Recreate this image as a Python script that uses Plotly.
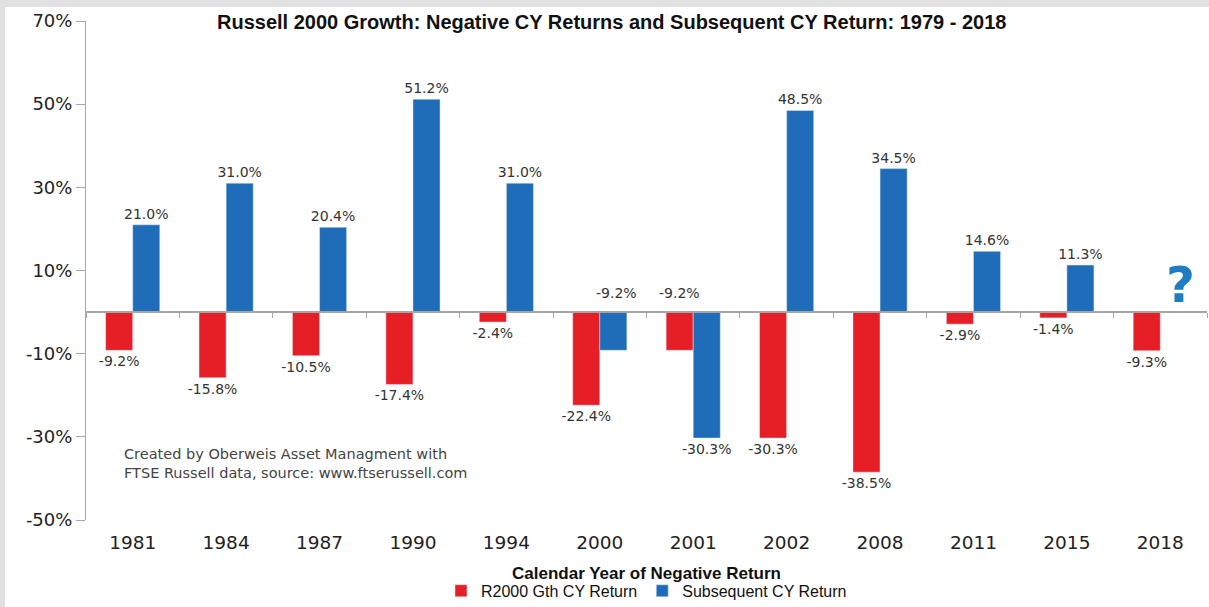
import plotly.graph_objects as go

years = ["1981", "1984", "1987", "1990", "1994", "2000", "2001", "2002", "2008", "2011", "2015", "2018"]
neg_returns = [-9.2, -15.8, -10.5, -17.4, -2.4, -22.4, -9.2, -30.3, -38.5, -2.9, -1.4, -9.3]
next_returns = [21.0, 31.0, 20.4, 51.2, 31.0, -9.2, -30.3, 48.5, 34.5, 14.6, 11.3, None]
y_ticks = [-50, -30, -10, 10, 30, 50, 70]

RED = "#E61E26"
BLUE = "#1F6DB9"
LABEL_FONT = dict(family="DejaVu Sans", size=14, color="#333333")

# labels that sit above the zero line in the original
above_red = {"2001"}
above_blue = {"2000"}

red_text = ["" if y in above_red else f"{v:.1f}%" for y, v in zip(years, neg_returns)]
blue_text = ["" if (y in above_blue or v is None) else f"{v:.1f}%" for y, v in zip(years, next_returns)]

fig = go.Figure()
fig.add_trace(go.Bar(
    x=years, y=neg_returns, name="R2000 Gth CY Return", marker_color=RED,
    text=red_text, textposition="outside", textfont=LABEL_FONT, cliponaxis=False,
    constraintext="none",
))
fig.add_trace(go.Bar(
    x=years, y=next_returns, name="Subsequent CY Return", marker_color=BLUE,
    text=blue_text, textposition="outside", textfont=LABEL_FONT, cliponaxis=False,
    constraintext="none",
))
# invisible trace to carry the zero-line axis with boundary ticks
fig.add_trace(go.Scatter(x=years, y=[0] * len(years), xaxis="x2", yaxis="y", showlegend=False,
                         hoverinfo="skip", mode="markers", marker=dict(opacity=0)))

annotations = []
half = 13.5
for i, (y, v) in enumerate(zip(years, neg_returns)):
    if y in above_red:
        annotations.append(dict(x=i, y=0, xref="x", yref="y", text=f"{v:.1f}%", showarrow=False,
                                yanchor="bottom", xshift=-half, yshift=9, font=LABEL_FONT))
for i, (y, v) in enumerate(zip(years, next_returns)):
    if y in above_blue:
        annotations.append(dict(x=i, y=0, xref="x", yref="y", text=f"{v:.1f}%", showarrow=False,
                                yanchor="bottom", xshift=half + 3, yshift=9, font=LABEL_FONT))
# question mark for 2018
annotations.append(dict(x=len(years) - 1, y=0, xref="x", yref="y", text="<b>?</b>", showarrow=False,
                        yanchor="bottom", xshift=20, yshift=-4,
                        font=dict(family="DejaVu Sans", size=50, color="#1E7CC2")))
# source note
annotations.append(dict(x=0.032, y=0.114, xref="paper", yref="paper", xanchor="left", yanchor="middle",
                        align="left", showarrow=False,
                        text="Created by Oberweis Asset Managment with<br>FTSE Russell data, source: www.ftserussell.com",
                        font=dict(family="DejaVu Sans", size=14.5, color="#444444")))
# x-axis title
annotations.append(dict(x=0.5, y=-0.108, xref="paper", yref="paper", xanchor="center", yanchor="middle",
                        showarrow=False, text="<b>Calendar Year of Negative Return</b>",
                        font=dict(family="Liberation Sans", size=17, color="#111111")))

xrange = [-0.5, len(years) - 0.5]

fig.update_layout(
    width=1209, height=607,
    margin=dict(l=86, r=2, t=21, b=87, autoexpand=False),
    paper_bgcolor="#E1E1E1", plot_bgcolor="white",
    barmode="group", bargap=0.42, bargroupgap=0,
    title=dict(text="<b>Russell 2000 Growth: Negative CY Returns and Subsequent CY Return: 1979 - 2018</b>",
               x=0.506, xanchor="center", xref="container", y=0.963, yanchor="middle",
               font=dict(family="Liberation Sans", size=20, color="#111111")),
    xaxis=dict(type="category", categoryorder="array", categoryarray=years, range=xrange,
               showline=False, ticks="", showgrid=False, zeroline=False,
               tickfont=dict(family="DejaVu Sans", size=18.5, color="#222222"),
               ticklabelstandoff=9),
    xaxis2=dict(type="category", categoryorder="array", categoryarray=years, range=xrange,
                overlaying="x", anchor="free", position=50 / 120,
                side="bottom", showline=True, linecolor="#A6A6A6", linewidth=1.5,
                ticks="outside", tickson="boundaries", ticklen=5, tickcolor="#A6A6A6",
                showticklabels=False, showgrid=False, zeroline=False),
    yaxis=dict(range=[-50, 70], tickvals=y_ticks, ticktext=[f"{t}%" for t in y_ticks],
               showgrid=False, zeroline=False, showline=True, linecolor="#A6A6A6", linewidth=1,
               ticks="outside", ticklen=9, tickcolor="#A6A6A6", automargin=False,
               tickfont=dict(family="DejaVu Sans", size=18, color="#222222")),
    legend=dict(orientation="h", x=0.5, xanchor="center", y=-0.142, yanchor="middle",
                font=dict(family="Liberation Sans", size=16, color="#111111"),
                bgcolor="rgba(0,0,0,0)"),
    annotations=annotations,
    shapes=[dict(type="rect", xref="paper", yref="paper", x0=(5 - 86) / 1121, x1=(1212 - 86) / 1121,
                 y0=(520 - 610) / 499, y1=(520 - 7) / 499, fillcolor="white", line_width=0, layer="below")],
    showlegend=True,
)

fig.write_html("out.html", config={"displayModeBar": False},
               post_script="document.body.style.margin='0';document.body.style.overflow='hidden';")
